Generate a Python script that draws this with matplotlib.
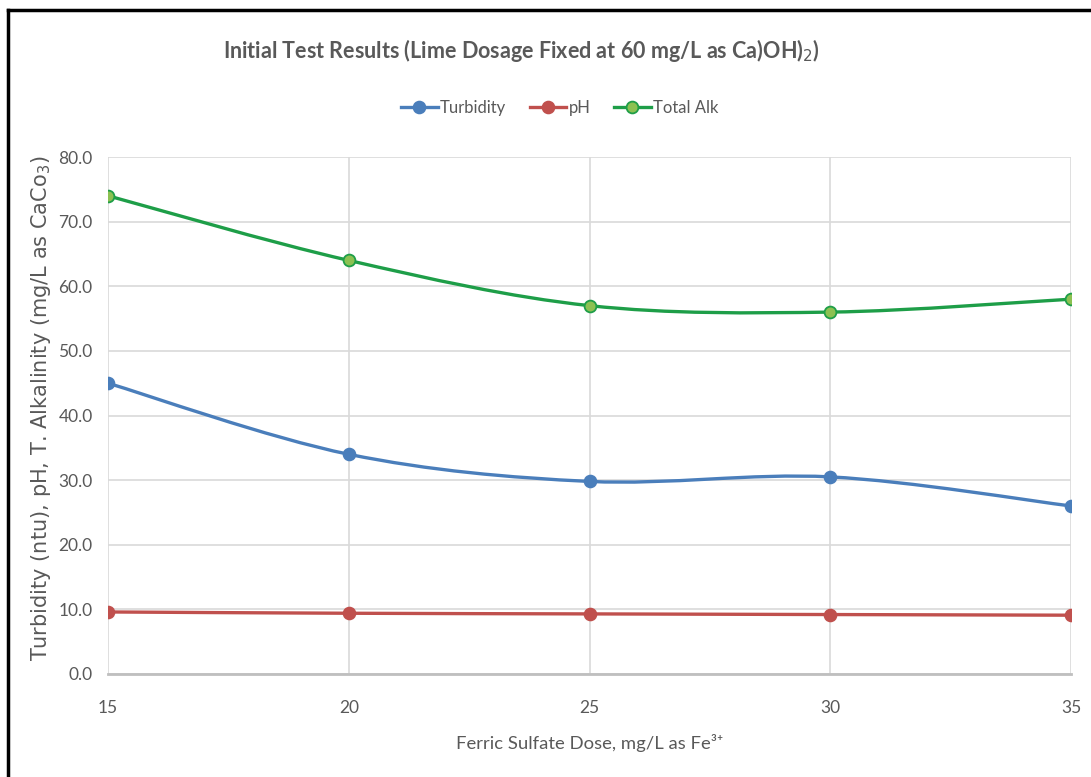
import numpy as np
import matplotlib
matplotlib.use("Agg")
import matplotlib.pyplot as plt
from matplotlib.path import Path
from matplotlib.patches import PathPatch
from matplotlib.lines import Line2D

# Ferric sulfate doses and measured results
dose = [15, 20, 25, 30, 35]
turbidity = [45.0, 34.0, 29.8, 30.5, 26.0]
ph = [9.6, 9.4, 9.3, 9.2, 9.1]
total_alk = [74.0, 64.0, 57.0, 56.0, 58.0]

x_ticks = [15, 20, 25, 30, 35]
y_ticks = [0, 10, 20, 30, 40, 50, 60, 70, 80]

NARROW = ["Lato", "DejaVu Sans"]
GREY = "#595959"


def smooth_path(xs, ys):
    """Cubic Bezier path through the points, Catmull-Rom style (spreadsheet smoothing)."""
    pts = np.column_stack([xs, ys]).astype(float)
    n = len(pts)
    verts = [pts[0]]
    codes = [Path.MOVETO]
    for i in range(n - 1):
        p0 = pts[i - 1] if i > 0 else pts[i]
        p1 = pts[i]
        p2 = pts[i + 1]
        p3 = pts[i + 2] if i + 2 < n else pts[i + 1]
        c1 = p1 + (p2 - p0) / 6.0
        c2 = p2 - (p3 - p1) / 6.0
        verts += [c1, c2, p2]
        codes += [Path.CURVE4] * 3
    return Path(verts, codes)


fig = plt.figure(figsize=(10.91, 7.77), dpi=100)
ax = fig.add_axes([108 / 1091, 1 - 674 / 777, (1071 - 108) / 1091, (674 - 157) / 777])

series = [
    ("Turbidity", turbidity, "#4a7ebb", "#4a7ebb", "#4a7ebb"),
    ("pH", ph, "#c0504d", "#c0504d", "#c0504d"),
    ("Total Alk", total_alk, "#1e9e48", "#8cc152", "#1e9e48"),
]

handles = []
for name, vals, lc, mfc, mec in series:
    patch = PathPatch(smooth_path(dose, vals), facecolor="none", edgecolor=lc,
                      lw=2.4, zorder=3, capstyle="round", joinstyle="round")
    ax.add_patch(patch)
    ax.plot(dose, vals, ls="none", marker="o", ms=8.5, mfc=mfc, mec=mec,
            mew=1.3, zorder=4)
    handles.append(Line2D([0], [0], color=lc, lw=2.4, marker="o", ms=8.5,
                          mfc=mfc, mec=mec, mew=1.3))

ax.set_xlim(15, 35)
ax.set_ylim(0, 80)
ax.set_xticks(x_ticks)
ax.set_yticks(y_ticks)
ax.set_yticklabels([f"{v:.1f}" for v in y_ticks])
ax.grid(True, color="#d9d9d9", lw=1.2, zorder=0)
ax.set_axisbelow(True)
for s in ["top", "right", "left"]:
    ax.spines[s].set_visible(False)
ax.spines["bottom"].set_color("#bfbfbf")
ax.spines["bottom"].set_linewidth(2)
ax.tick_params(length=0, labelsize=12.5, colors=GREY)
for lbl in ax.get_xticklabels() + ax.get_yticklabels():
    lbl.set_family(NARROW)
ax.tick_params(axis="y", pad=11)
ax.tick_params(axis="x", pad=19)

ax.set_ylabel("Turbidity (ntu), pH, T. Alkalinity (mg/L as CaCo$_3$)",
              fontsize=15, color=GREY, family="DejaVu Sans")
ax.yaxis.set_label_coords(-0.057, 0.515)
ax.set_xlabel("Ferric Sulfate Dose, mg/L as Fe³⁺", fontsize=13.3,
              color=GREY, family=NARROW, labelpad=13)

fig.text(0.478, 1 - 50 / 777, "Initial Test Results (Lime Dosage Fixed at 60 mg/L as Ca)OH)$_2$)",
         ha="center", va="center", fontsize=15.5, color=GREY,
         family=NARROW, weight="bold")

fig.legend(handles, [s[0] for s in series], loc="center",
           bbox_to_anchor=(0.513, 1 - 108 / 777), ncol=3, frameon=False,
           prop={"family": NARROW, "size": 12}, handlelength=2.2,
           columnspacing=1.4, handletextpad=0.15, labelcolor=GREY)

# dark frame along the top and left edges
fig.add_artist(Line2D([8 / 1091, 8 / 1091], [0, 1 - 10 / 777], color="black",
                      lw=2.5, transform=fig.transFigure))
fig.add_artist(Line2D([8 / 1091, 1], [1 - 10 / 777, 1 - 10 / 777], color="black",
                      lw=2.5, transform=fig.transFigure))

fig.savefig("out.png", dpi=100)
